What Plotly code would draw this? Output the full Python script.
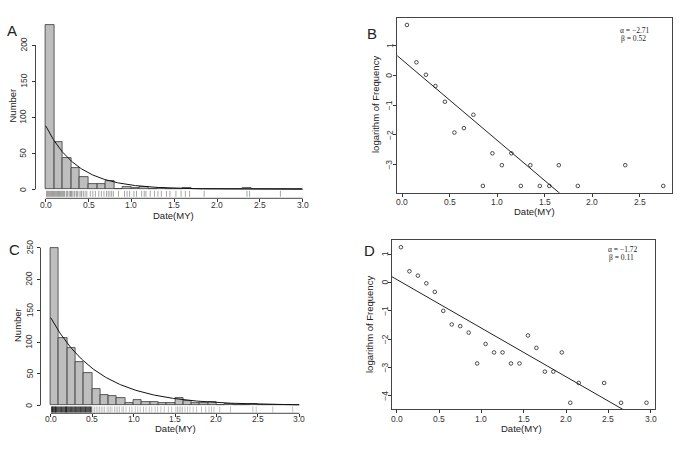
import numpy as np
import plotly.graph_objects as go

W, H = 685, 449

# ---------------- data ----------------
bin_width = 0.1
bin_left = [0.0, 0.1, 0.2, 0.3, 0.4, 0.5, 0.6, 0.7, 0.8, 0.9,
            1.0, 1.1, 1.2, 1.3, 1.4, 1.5, 1.6, 1.7, 1.8, 1.9,
            2.0, 2.1, 2.2, 2.3, 2.4, 2.5, 2.6, 2.7, 2.8, 2.9]

counts_a = [228, 65, 43, 29, 17, 7, 8, 11, 1, 3,
            2, 3, 1, 2, 1, 1, 2, 0, 1, 0,
            0, 0, 0, 2, 0, 0, 0, 1, 0, 0]
counts_c = [250, 106, 91, 69, 51, 26, 16, 15, 12, 4,
            8, 6, 6, 4, 4, 11, 7, 3, 3, 6,
            1, 2, 0, 0, 2, 0, 1, 0, 0, 1]

rug_a = [0.01, 0.02, 0.03, 0.04, 0.05, 0.06, 0.07, 0.08, 0.09, 0.10, 0.11, 0.12,
         0.13, 0.14, 0.15, 0.16, 0.17, 0.18, 0.19, 0.20, 0.21, 0.22, 0.24, 0.25,
         0.26, 0.28, 0.29, 0.30, 0.31, 0.33, 0.34, 0.36, 0.37, 0.39, 0.41, 0.42,
         0.44, 0.46, 0.48, 0.52, 0.55, 0.58, 0.62, 0.65, 0.68, 0.71, 0.73, 0.75,
         0.77, 0.79, 0.85, 0.92, 0.95, 0.98, 1.03, 1.06, 1.12, 1.15, 1.17, 1.22,
         1.27, 1.31, 1.35, 1.41, 1.45, 1.52, 1.58, 1.63, 1.68, 1.85, 2.35, 2.38, 2.74]

rug_c_dense = [0.01, 0.02, 0.025, 0.03, 0.04, 0.05, 0.055, 0.06, 0.07, 0.08, 0.09,
               0.10, 0.11, 0.12, 0.13, 0.14, 0.15, 0.16, 0.17, 0.18, 0.185, 0.19,
               0.20, 0.21, 0.22, 0.23, 0.24, 0.25, 0.26, 0.27, 0.28, 0.29, 0.30,
               0.31, 0.32, 0.33, 0.34, 0.35, 0.36, 0.37, 0.38, 0.39, 0.40, 0.41,
               0.42, 0.43, 0.44, 0.45, 0.46, 0.47, 0.48, 0.49]
rug_c_sparse = [0.51, 0.53, 0.55, 0.57, 0.59, 0.61, 0.63, 0.65, 0.68, 0.70, 0.72,
                0.74, 0.77, 0.79, 0.81, 0.83, 0.86, 0.88, 0.91, 0.95, 0.98,
                1.02, 1.05, 1.08, 1.12, 1.15, 1.19, 1.22, 1.26, 1.29, 1.33, 1.37,
                1.42, 1.46, 1.51, 1.53, 1.55, 1.57, 1.59, 1.62, 1.65, 1.68, 1.72,
                1.76, 1.82, 1.87, 1.91, 1.94, 1.97, 2.04, 2.17, 2.44, 2.48, 2.68, 2.92]

logx_b = [0.05, 0.15, 0.25, 0.35, 0.45, 0.55, 0.65, 0.75, 0.85, 0.95,
          1.05, 1.15, 1.25, 1.35, 1.45, 1.55, 1.65, 1.85, 2.35, 2.75]
logy_b = [1.70, 0.44, 0.02, -0.36, -0.89, -1.93, -1.78, -1.33, -3.73, -2.63,
          -3.03, -2.63, -3.73, -3.03, -3.73, -3.73, -3.03, -3.73, -3.03, -3.73]

logx_d = [0.05, 0.15, 0.25, 0.35, 0.45, 0.55, 0.65, 0.75, 0.85, 0.95,
          1.05, 1.15, 1.25, 1.35, 1.45, 1.55, 1.65, 1.75, 1.85, 1.95,
          2.05, 2.15, 2.45, 2.65, 2.95]
logy_d = [1.25, 0.40, 0.245, -0.026, -0.33, -1.00, -1.48, -1.54, -1.77, -2.86,
          -2.17, -2.47, -2.47, -2.86, -2.86, -1.87, -2.31, -3.15, -3.15, -2.47,
          -4.25, -3.55, -3.55, -4.25, -4.25]

# fitted parameters shown on the chart
alpha_b, beta_b = -2.71, 0.52
alpha_d, beta_d = -1.72, 0.11
curve_amp_a = 88
curve_amp_c = 139

x_ticks = [0.0, 0.5, 1.0, 1.5, 2.0, 2.5, 3.0]
x_ticks_b = [0.0, 0.5, 1.0, 1.5, 2.0, 2.5]
y_ticks_a = [0, 50, 100, 150, 200]
y_ticks_c = [0, 50, 100, 150, 200, 250]
y_ticks_b = [1, 0, -1, -2, -3]
y_ticks_d = [1, 0, -1, -2, -3, -4]

# ---------------- layout helpers ----------------
FONT = "Liberation Sans, Arial, sans-serif"
TXT = "#222222"
TICKC = "#333333"


def rng(p0, v0, p1, v1, a, b):
    s = (v1 - v0) / (p1 - p0)
    return [v0 + (a - p0) * s, v0 + (b - p0) * s]


def xdom(a, b):
    return [a / W, b / W]


def ydom(top, bottom):
    return [1 - bottom / H, 1 - top / H]


# pixel geometry of each panel (+ where tick labels sit)
geom = {
    "a": dict(x=(45.7, 0, 302.7, 3), xd=(35.5, 313), y=(189.3, 0, 45.0, 200), yd=(18.0, 198.3),
              xlab_y=205.2, ylab_x=23.6),
    "c": dict(x=(50.7, 0, 299.3, 3), xd=(40.5, 309.5), y=(405.3, 0, 247.7, 250), yd=(241.0, 413.3),
              xlab_y=419.4, ylab_x=29.5),
    "b": dict(x=(402.2, 0, 639.5, 2.5), xd=(397.3, 671.7), y=(45.7, 1, 164.3, -3), yd=(18.3, 192.7),
              xlab_y=201.5, ylab_x=389.3),
    "d": dict(x=(396.7, 0, 650.7, 3), xd=(391.7, 655.0), y=(254.3, 1, 395.7, -4), yd=(240.0, 409.0),
              xlab_y=418.5, ylab_x=385.0),
}
axis_ids = {"a": ("x", "y"), "b": ("x2", "y2"), "c": ("x3", "y3"), "d": ("x4", "y4")}


def px_to_y(panel, py):
    g = geom[panel]["y"]
    return rng(g[0], g[1], g[2], g[3], py, py)[0]


fig = go.Figure()

centers = [b + bin_width / 2 for b in bin_left]

# histograms
for panel, counts in (("a", counts_a), ("c", counts_c)):
    xa, ya = axis_ids[panel]
    fig.add_trace(go.Bar(x=centers, y=counts, width=bin_width, xaxis=xa, yaxis=ya,
                         marker=dict(color="#bebebe", line=dict(color="#3a3a3a", width=0.8)),
                         showlegend=False, hoverinfo="skip"))

# exponential curves
xc = np.linspace(0, 3, 301)
fig.add_trace(go.Scatter(x=xc, y=curve_amp_a * np.exp(alpha_b * xc), mode="lines",
                         line=dict(color="#111", width=1), xaxis="x", yaxis="y", showlegend=False))
fig.add_trace(go.Scatter(x=xc, y=curve_amp_c * np.exp(alpha_d * xc), mode="lines",
                         line=dict(color="#111", width=1), xaxis="x3", yaxis="y3", showlegend=False))


# rugs
def rug(panel, vals, color, top_px, bot_px):
    xa, ya = axis_ids[panel]
    y0, y1 = px_to_y(panel, bot_px), px_to_y(panel, top_px)
    xs, ys = [], []
    for v in vals:
        xs += [v, v, None]
        ys += [y0, y1, None]
    fig.add_trace(go.Scatter(x=xs, y=ys, mode="lines", line=dict(color=color, width=1),
                             xaxis=xa, yaxis=ya, showlegend=False, hoverinfo="skip"))


rug("a", rug_a, "rgba(60,60,60,0.45)", 190.8, 196.8)
rug("c", rug_c_sparse, "rgba(120,120,120,0.45)", 406.5, 412.5)
rug("c", rug_c_dense, "rgba(0,0,0,0.7)", 406.5, 412.5)

# scatter + regression lines
for panel, lx, ly, a, b in (("b", logx_b, logy_b, alpha_b, beta_b), ("d", logx_d, logy_d, alpha_d, beta_d)):
    xa, ya = axis_ids[panel]
    xl = np.array([-0.2, 3.2])
    fig.add_trace(go.Scatter(x=xl, y=b + a * xl, mode="lines", line=dict(color="#222", width=1),
                             xaxis=xa, yaxis=ya, showlegend=False, hoverinfo="skip"))
    fig.add_trace(go.Scatter(x=lx, y=ly, mode="markers",
                             marker=dict(symbol="circle-open", size=3.6, color="#222", line=dict(width=0.8)),
                             xaxis=xa, yaxis=ya, showlegend=False, cliponaxis=False))

# axes
layout = dict(width=W, height=H, margin=dict(l=0, r=0, t=0, b=0), paper_bgcolor="white",
              plot_bgcolor="white", bargap=0, showlegend=False, font=dict(family=FONT, color=TXT))

xticks = {"a": x_ticks, "b": x_ticks_b, "c": x_ticks, "d": x_ticks}
yticks = {"a": y_ticks_a, "b": y_ticks_b, "c": y_ticks_c, "d": y_ticks_d}
for panel in ("a", "b", "c", "d"):
    g = geom[panel]
    xa, ya = axis_ids[panel]
    boxed = panel in ("b", "d")
    xkey = "xaxis" + xa[1:]
    ykey = "yaxis" + ya[1:]
    common = dict(showgrid=False, zeroline=False, ticks="outside", ticklen=3 if boxed else 2.5,
                  tickwidth=0.8, tickcolor=TICKC, showticklabels=False,
                  showline=boxed, linecolor="#444", linewidth=0.9, mirror=boxed)
    layout[xkey] = dict(common, domain=xdom(*g["xd"]),
                        range=rng(*g["x"], g["xd"][0], g["xd"][1]),
                        tickvals=xticks[panel], anchor=ya)
    layout[ykey] = dict(common, domain=ydom(*g["yd"]),
                        range=rng(*g["y"], g["yd"][1], g["yd"][0]),
                        tickvals=yticks[panel], anchor=xa)

fig.update_layout(**layout)

# R-style detached axis lines for histograms
for panel, yt in (("a", y_ticks_a), ("c", y_ticks_c)):
    xa, ya = axis_ids[panel]
    fig.add_shape(type="line", xref=xa, yref=ya + " domain", x0=x_ticks[0], x1=x_ticks[-1], y0=0, y1=0,
                  line=dict(color="#333", width=0.9))
    fig.add_shape(type="line", xref=xa + " domain", yref=ya, x0=0, x1=0, y0=yt[0], y1=yt[-1],
                  line=dict(color="#333", width=0.9))

# tick labels (R style: y labels parallel to the axis)
TICKFONT = dict(size=8.5, family=FONT, color="#333")
for panel in ("a", "b", "c", "d"):
    g = geom[panel]
    xa, ya = axis_ids[panel]
    for v in xticks[panel]:
        fig.add_annotation(text="%.1f" % v, x=v, xref=xa, y=1 - g["xlab_y"] / H, yref="paper",
                           showarrow=False, font=TICKFONT, xanchor="center", yanchor="middle")
    for v in yticks[panel]:
        fig.add_annotation(text=str(v).replace("-", "\u2212"), x=g["ylab_x"] / W, xref="paper", y=v, yref=ya,
                           showarrow=False, font=TICKFONT, textangle=-90, xanchor="center", yanchor="middle")


def ann(text, x, y, size, angle=0, family=FONT, color=TXT, xanchor="center"):
    fig.add_annotation(text=text, x=x / W, y=1 - y / H, xref="paper", yref="paper", showarrow=False,
                       textangle=angle, font=dict(size=size, family=family, color=color),
                       xanchor=xanchor, yanchor="middle")


# panel letters
ann("A", 12, 31, 15)
ann("B", 372, 33, 15)
ann("C", 14, 249, 15)
ann("D", 369, 251, 15)
# axis titles
ann("Number", 11.5, 106, 9.5, -90)
ann("Date(MY)", 174, 215.8, 9.5)
ann("logarithm of Frequency", 375, 105, 9.5, -90)
ann("Date(MY)", 534, 211.7, 9.5)
ann("Number", 17, 325, 9.5, -90)
ann("Date(MY)", 175, 428.0, 9.5)
ann("logarithm of Frequency", 369, 325, 9.5, -90)
ann("Date(MY)", 521, 428.5, 9.5)
# fit parameters
SERIF = "Liberation Serif, Times New Roman, serif"
ann("\u03b1 = \u2212%.2f" % abs(alpha_b), 652, 31, 7.5, family=SERIF, xanchor="right")
ann("\u03b2 = %.2f" % beta_b, 648, 38.7, 7.5, family=SERIF, xanchor="right")
ann("\u03b1 = \u2212%.2f" % abs(alpha_d), 639.5, 249, 7.5, family=SERIF, xanchor="right")
ann("\u03b2 = %.2f" % beta_d, 636, 257.3, 7.5, family=SERIF, xanchor="right")

fig.write_html("out.html", config={"displayModeBar": False},
               post_script="document.body.style.margin='0';")
